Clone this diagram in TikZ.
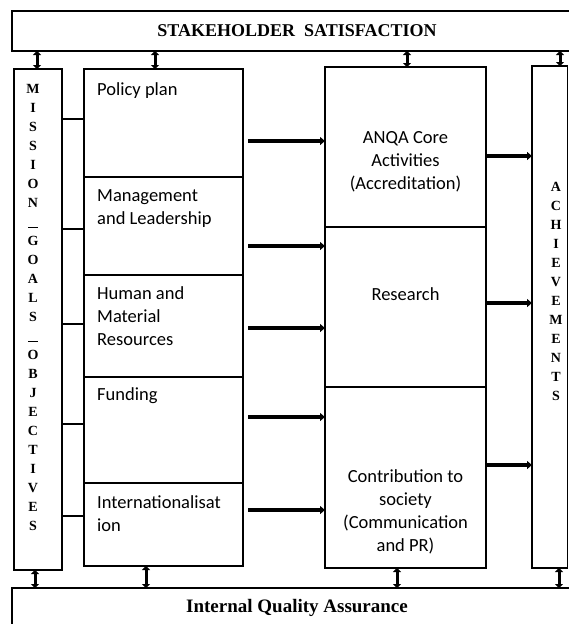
\documentclass[tikz,border=0pt]{standalone}
\usepackage{fontspec}
\setmainfont{Carlito}
\newfontfamily\headfont{Liberation Serif}
\usetikzlibrary{arrows.meta, positioning}

\tikzset{
  box/.style={draw, line width=1.1pt, anchor=north west, inner sep=0pt, outer sep=0pt},
  txt/.style={font=\fontsize{18.5}{23}\selectfont, align=left, inner sep=0pt},
  ctxt/.style={font=\fontsize{18.5}{23}\selectfont, align=center, inner sep=0pt, anchor=north},
  head/.style={font=\headfont\bfseries\fontsize{18}{20}\selectfont, inner sep=0pt},
  vert/.style={font=\headfont\bfseries\fontsize{14}{19}\selectfont, align=center, inner sep=0pt, anchor=north},
  link/.style={line width=2pt},
  flow/.style={line width=3.6pt, -{Triangle[length=5pt, width=8pt]}},
  both/.style={line width=3pt, {Triangle[length=4pt, width=8pt]}-{Triangle[length=4pt, width=8pt]}}
}
\newcommand{\dashbar}{\rule[-2pt]{10pt}{1.6pt}}

\begin{document}
\begin{tikzpicture}[x=1pt, y=-1pt]
    \useasboundingbox (0,0) rectangle (569,624);
    \clip (0,0) rectangle (569,624);

    % top and bottom bands
    \node[box, minimum width=570pt, minimum height=40pt] (ss) at (12,11) {};
    \node[head] (ss_t) at (ss.center) {STAKEHOLDER\ \ SATISFACTION};
    \node[box, minimum width=570pt, minimum height=42pt] (iqa) at (12,588) {};
    \node[head, font=\headfont\bfseries\fontsize{19}{22}\selectfont, anchor=north, below=11pt of iqa.north] (iqa_t) {Internal Quality Assurance};

    % mission column
    \node[box, minimum width=48pt, minimum height=501pt] (mis) at (14,69) {};
    \node[vert] (mis_t) at (33,84) {M\\I\\S\\S\\I\\O\\N\\\dashbar\\G\\O\\A\\L\\S\\\dashbar\\O\\B\\J\\E\\C\\T\\I\\V\\E\\S};

    % input column
    \node[box, minimum width=159pt, minimum height=108pt] (lp1) at (84,69) {};
    \node[box, minimum width=159pt, minimum height=98pt, below=0pt of lp1] (lp2) {};
    \node[box, minimum width=159pt, minimum height=102pt, below=0pt of lp2] (lp3) {};
    \node[box, minimum width=159pt, minimum height=106pt, below=0pt of lp3] (lp4) {};
    \node[box, minimum width=159pt, minimum height=83pt, below=0pt of lp4] (lp5) {};
    \node[txt, below right=13pt and 13pt of lp1.north west] (lp1_t) {Policy plan};
    \node[txt, below right=12pt and 13pt of lp2.north west] (lp2_t) {Management\\and Leadership};
    \node[txt, below right=11pt and 13pt of lp3.north west] (lp3_t) {Human and\\Material\\Resources};
    \node[txt, below right=10pt and 13pt of lp4.north west] (lp4_t) {Funding};
    \node[txt, below right=12pt and 13pt of lp5.north west] (lp5_t) {Internationalisat\\ion};

    % core column
    \node[box, minimum width=161pt, minimum height=160pt] (mc1) at (325,67) {};
    \node[box, minimum width=161pt, minimum height=160pt, below=0pt of mc1] (mc2) {};
    \node[box, minimum width=161pt, minimum height=181pt, below=0pt of mc2] (mc3) {};
    \node[ctxt, below=64pt of mc1.north] (mc1_t) {ANQA Core\\Activities\\(Accreditation)};
    \node[ctxt, below=60pt of mc2.north] (mc2_t) {Research};
    \node[ctxt, below=82pt of mc3.north] (mc3_t) {Contribution to\\society\\(Communication\\and PR)};

    % achievements column
    \node[box, minimum width=35.5pt, minimum height=502pt] (ach) at (532,66) {};
    \node[vert] (ach_t) at (556,182) {A\\C\\H\\I\\E\\V\\E\\M\\E\\N\\T\\S};

    % connectors
    \foreach \y in {119,229,324,424,516}
        \draw[link] (mis.east |- 0,\y) -- (lp1.west |- 0,\y);
    \foreach \y in {141,246,328,417,510}
        \draw[flow] ([xshift=5pt]lp1.east |- 0,\y) -- (mc1.west |- 0,\y);
    \foreach \y in {156,303,465}
        \draw[flow] (mc1.east |- 0,\y) -- (ach.west |- 0,\y);
    \foreach \x/\n in {37/mis,155/lp1,407/mc1,560/ach}
        \draw[both] (ss.south -| \x,0) -- (\n.north -| \x,0);
    \foreach \x/\n in {35/mis,146/lp5,397/mc3,559/ach}
        \draw[both] (\n.south -| \x,0) -- (iqa.north -| \x,0);
\end{tikzpicture}
\end{document}
